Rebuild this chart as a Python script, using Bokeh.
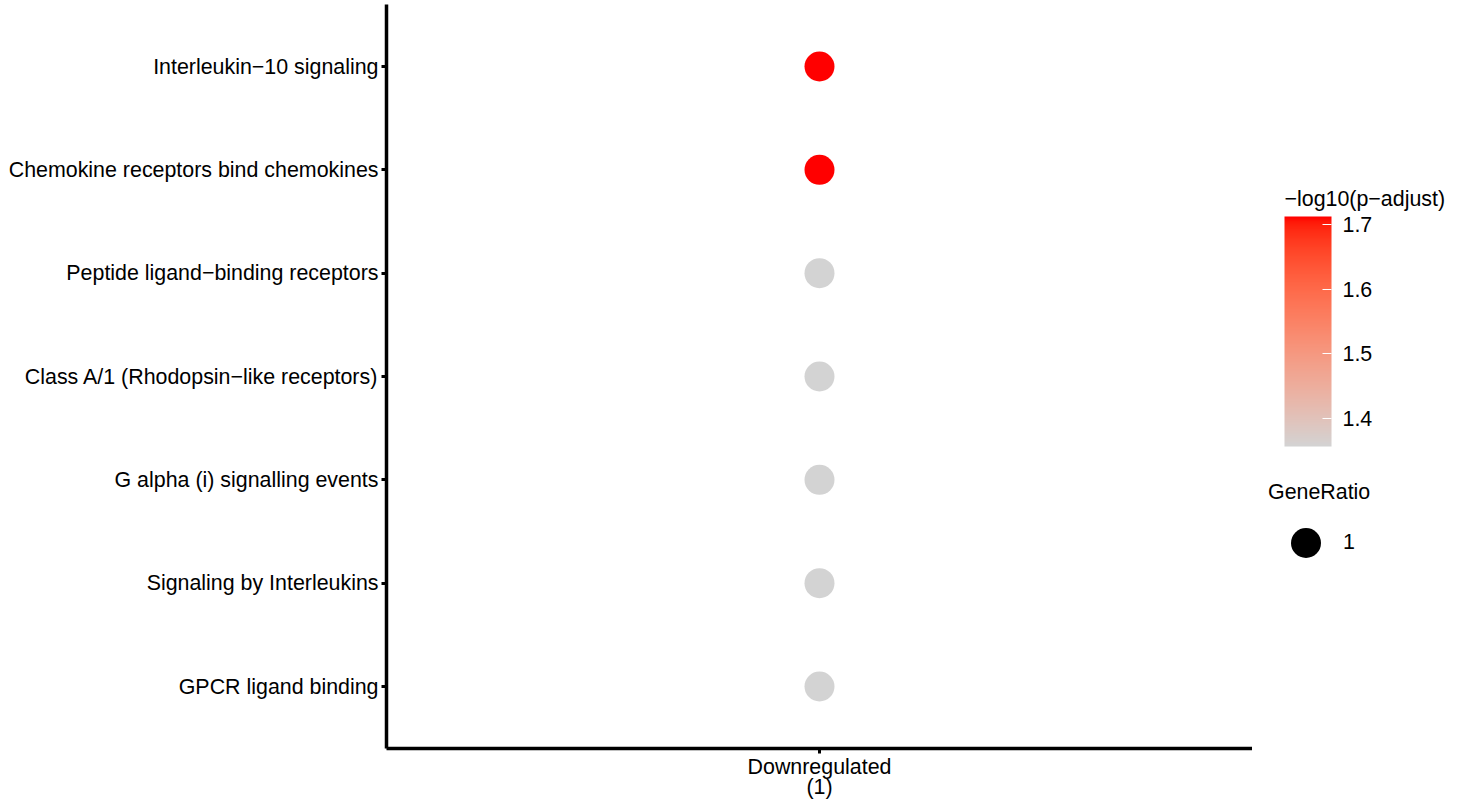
from bokeh.plotting import figure
from bokeh.layouts import row
from bokeh.models import (ColumnDataSource, FactorRange, Range1d, LinearColorMapper, ColorBar,
                          FixedTicker, Legend, LegendItem, Label)
from bokeh.transform import transform
from bokeh.embed import file_html
from bokeh.resources import INLINE

# Enriched pathways (listed bottom to top) for the single comparison group
pathways = [
    "GPCR ligand binding",
    "Signaling by Interleukins",
    "G alpha (i) signalling events",
    "Class A/1 (Rhodopsin\u2212like receptors)",
    "Peptide ligand\u2212binding receptors",
    "Chemokine receptors bind chemokines",
    "Interleukin\u221210 signaling",
]
groups = ["Downregulated\n(1)"] * 7
neg_log10_padj = [1.357, 1.357, 1.357, 1.357, 1.357, 1.712, 1.712]
gene_ratio = [1, 1, 1, 1, 1, 1, 1]
cbar_ticks = [1.4, 1.5, 1.6, 1.7]

FONT = "Liberation Sans"
FS = "21.4px"
LOW_COLOR = (211, 211, 211)
HIGH_COLOR = (255, 0, 0)


# --- Lab-space gradient between light grey and red -----------------------
def _to_lin(c):
    c = c / 255.0
    return c / 12.92 if c <= 0.04045 else ((c + 0.055) / 1.055) ** 2.4


def _from_lin(c):
    c = 12.92 * c if c <= 0.0031308 else 1.055 * c ** (1 / 2.4) - 0.055
    return int(round(min(max(c, 0.0), 1.0) * 255))


WHITE = (0.95047, 1.0, 1.08883)


def rgb_to_lab(rgb):
    r, g, b = (_to_lin(v) for v in rgb)
    x = 0.4124 * r + 0.3576 * g + 0.1805 * b
    y = 0.2126 * r + 0.7152 * g + 0.0722 * b
    z = 0.0193 * r + 0.1192 * g + 0.9505 * b

    def f(t):
        return t ** (1 / 3) if t > 0.008856 else 7.787 * t + 16 / 116

    fx, fy, fz = f(x / WHITE[0]), f(y / WHITE[1]), f(z / WHITE[2])
    return (116 * fy - 16, 500 * (fx - fy), 200 * (fy - fz))


def lab_to_rgb(lab):
    L, a, bb = lab
    fy = (L + 16) / 116
    fx = fy + a / 500
    fz = fy - bb / 200

    def finv(t):
        return t ** 3 if t ** 3 > 0.008856 else (t - 16 / 116) / 7.787

    x, y, z = finv(fx) * WHITE[0], finv(fy) * WHITE[1], finv(fz) * WHITE[2]
    r = 3.2406 * x - 1.5372 * y - 0.4986 * z
    g = -0.9689 * x + 1.8758 * y + 0.0415 * z
    b = 0.0557 * x - 0.2040 * y + 1.0570 * z
    return "#%02x%02x%02x" % (_from_lin(r), _from_lin(g), _from_lin(b))


lab_lo, lab_hi = rgb_to_lab(LOW_COLOR), rgb_to_lab(HIGH_COLOR)
palette = [
    lab_to_rgb(tuple(lo + (hi - lo) * i / 255 for lo, hi in zip(lab_lo, lab_hi)))
    for i in range(256)
]
palette[0] = "#d3d3d3"
palette[-1] = "#ff0000"

mapper = LinearColorMapper(palette=palette, low=min(neg_log10_padj), high=max(neg_log10_padj))

source = ColumnDataSource(dict(group=groups, pathway=pathways,
                               padj=neg_log10_padj, ratio=gene_ratio))

# ---- main dot plot -------------------------------------------------------
p = figure(
    width=1252, height=802,
    x_range=FactorRange(factors=[groups[0]], range_padding=0.1, range_padding_units="absolute"),
    y_range=FactorRange(factors=pathways, range_padding=0.1, range_padding_units="absolute"),
    output_backend="svg", toolbar_location=None,
    min_border_left=386, min_border_right=0, min_border_top=4, min_border_bottom=40,
)
p.outline_line_color = None
p.xgrid.grid_line_color = None
p.ygrid.grid_line_color = None
p.background_fill_color = "white"

p.scatter(x="group", y="pathway", source=source, size=30,
          fill_color=transform("padj", mapper), line_color=None)

for ax in (p.xaxis[0], p.yaxis[0]):
    ax.axis_line_width = 3.5
    ax.axis_line_color = "black"
    ax.major_tick_line_width = 3
    ax.major_tick_line_color = "black"
    ax.major_tick_in = 0
    ax.major_tick_out = 5
    ax.minor_tick_line_color = None
    ax.major_label_text_font = FONT
    ax.major_label_text_font_size = FS
    ax.major_label_text_color = "black"
p.yaxis.major_label_standoff = 3
p.xaxis.major_label_standoff = 1
p.xaxis.major_label_text_line_height = 0.87

# ---- guide panel (colour bar + size key) ---------------------------------
# positions below are offsets from the bottom of the (shared-height) plot frame
g = figure(
    width=211, height=802, x_range=Range1d(0, 2), y_range=Range1d(0, 2),
    output_backend="svg", toolbar_location=None,
    min_border=0, min_border_left=0, min_border_right=0, min_border_top=0, min_border_bottom=0,
)
g.axis.visible = False
g.grid.visible = False
g.outline_line_color = None

cbar = ColorBar(
    color_mapper=mapper, ticker=FixedTicker(ticks=cbar_ticks),
    width=47, height=230, padding=0, location=(32, 302),
    major_label_text_font=FONT, major_label_text_font_size=FS,
    major_label_text_color="black", label_standoff=11,
    major_tick_line_color="white", major_tick_in=9, major_tick_out=0,
    minor_tick_line_color=None, bar_line_color=None,
    background_fill_color=None, border_line_color=None,
)
g.add_layout(cbar, "center")

cbar_title = Label(
    text="\u2212log10(p\u2212adjust)", x=32, y=550, x_units="screen", y_units="screen",
    text_font=FONT, text_font_size=FS, text_baseline="middle", text_align="left",
    text_color="black",
)
g.add_layout(cbar_title, "center")

# key glyph for the GeneRatio legend (zero-size so only the legend swatch shows)
key_src = ColumnDataSource(dict(x=gene_ratio[:1], y=gene_ratio[:1]))
key = g.scatter(x="x", y="y", source=key_src, size=0, fill_color="black", line_color=None)
size_legend = Legend(
    items=[LegendItem(label=str(gene_ratio[0]), renderers=[key])],
    title="GeneRatio", title_text_font=FONT, title_text_font_size=FS,
    title_text_font_style="normal", title_text_color="black", title_standoff=-15,
    label_text_font=FONT, label_text_font_size=FS, label_text_color="black",
    label_standoff=-5, glyph_width=75, glyph_height=75, padding=0, margin=0,
    border_line_color=None, background_fill_color=None,
    location=(16, 168),
)
g.add_layout(size_legend, "center")

layout = row(p, g, spacing=0)
open("out.html", "w").write(file_html(layout, INLINE))
